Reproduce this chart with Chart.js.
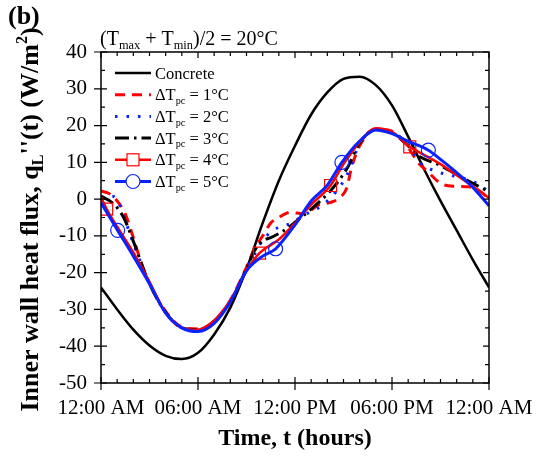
<!DOCTYPE html>
<html lang="en">
<head>
  <meta charset="UTF-8">
  <title>Inner wall heat flux</title>
  <style>
    html, body { margin: 0; padding: 0; background: #fff; }
  </style>
  <script src="https://cdn.jsdelivr.net/npm/chart.js"></script>
</head>
<body>
  <canvas id="fluxChart" width="550" height="457"></canvas>
  <script>
    // tick labels
    const xTickLabels = ['12:00 AM', '06:00 AM', '12:00 PM', '06:00 PM', '12:00 AM'];
    const legendNames = ['Concrete', 'ΔT_pc = 1°C', 'ΔT_pc = 2°C', 'ΔT_pc = 3°C', 'ΔT_pc = 4°C', 'ΔT_pc = 5°C'];

    // concrete wall (hourly)
    const concreteHours = [0, 1, 2, 3, 4, 5, 6, 7, 8, 9, 10, 11, 12, 13, 14, 15, 16, 17, 18, 19, 20, 21, 22, 23, 24];
    const concrete = [-24, -30, -35.5, -39.8, -42.6, -43.5, -41.8, -36.8, -29.5, -19, -6.5, 5, 14.5, 23, 29, 32.7, 33.3, 31, 25.5, 17, 8, -0.5, -8.5, -16.5, -24];

    // dT_pc = 1
    const dt1Hours = [0, 0.5, 1, 1.5, 2, 2.5, 3, 4, 5, 6, 7, 8, 9, 9.5, 10, 10.5, 11, 11.7, 12.5, 13.5, 14.2, 14.8, 15.2, 15.5, 16, 17, 18, 19, 19.6, 20.2, 21, 21.8, 22.9, 24];
    const dt1 = [2.2, 1.5, -0.5, -4, -10.5, -17.5, -23, -30.5, -34.8, -35.3, -33.2, -27.5, -18.5, -13.5, -10, -6.5, -5, -3.6, -4, -1.5, -0.9, 0.5, 3, 8.6, 14.5, 19, 18.5, 14, 10, 7.5, 4.3, 3.5, 3.3, 0.3];

    // dT_pc = 2
    const dt2Hours = [0, 0.7, 1.2, 1.6, 2, 3, 4, 5, 6, 7, 8, 9, 9.5, 10, 11, 11.7, 12.5, 13.65, 14.5, 15.2, 16, 17, 18, 19, 19.6, 20.9, 21.7, 23.1, 24];
    const dt2 = [0.3, 0.8, -2, -7, -12, -23, -30.8, -35, -35.5, -33.2, -27.8, -19, -15, -11.2, -7.6, -6.7, -4.5, -1.8, 1.8, 6.4, 15, 19, 18, 15, 10.5, 7.3, 6.4, 4.6, 2];

    // dT_pc = 3
    const dt3Hours = [0, 0.7, 1.4, 2, 3, 4, 5, 6, 7, 8, 9, 9.5, 10, 10.5, 11.5, 12, 13, 14.2, 15.2, 16, 17, 18, 19, 19.5, 21, 22.3, 24];
    const dt3 = [0.8, -1, -5, -11.5, -23, -30.8, -35, -35.5, -33.2, -27.8, -19, -14, -11.3, -10.5, -8, -6.3, -2.7, 2.3, 8.2, 15.3, 18.9, 18, 14.5, 12.2, 9.1, 5.9, 2];

    // dT_pc = 4 (squares)
    const dt4Hours = [0, 0.35, 1, 2, 3, 4, 5, 6, 7, 8, 9, 9.8, 11, 12, 13, 14.2, 15, 16, 17, 18, 19.1, 20, 21, 22, 23, 24];
    const dt4 = [0.5, -2.7, -7.5, -14.5, -22.5, -31, -35, -35.5, -33, -27.5, -19.5, -14.7, -11, -6.5, -1.5, 3.7, 9.5, 15.5, 19.3, 18.3, 14.2, 12, 9.5, 6.5, 3.5, 0.3];
    const dt4Markers = [0.35, 9.8, 14.2, 19.1];

    // dT_pc = 5 (circles)
    const dt5Hours = [0, 1.03, 2, 3, 4, 5, 6, 7, 8, 9, 10, 10.8, 12, 13, 14, 14.9, 16, 17, 18, 19, 20.25, 21, 22, 23, 24];
    const dt5 = [-1, -8.5, -15.5, -23, -31, -35, -36, -33.8, -28, -19.5, -15.5, -13.5, -7, -0.5, 3.8, 10, 15.8, 18.8, 17.8, 15.7, 13.3, 10.8, 7.2, 3.2, -1.8];
    const dt5Markers = [1.03, 10.8, 14.9, 20.25];

    const RED = '#ff0000';
    const BLUE = '#0a22ff';
    const SERIF = '"Liberation Serif", "Times New Roman", serif';

    function pts(hs, vs) {
      return hs.map((h, i) => ({ x: h, y: vs[i] }));
    }

    // text with sub/superscripts: parts = [[text, mode]] mode 0 normal, -1 sub, 1 sup
    function richParts(label) {
      const bits = label.split('_pc');
      if (bits.length < 2) return [[label, 0]];
      return [[bits[0], 0], ['pc', -1], [bits[1], 0]];
    }
    function richWidth(ctx, parts, size, weight) {
      let w = 0;
      parts.forEach(p => {
        ctx.font = `${weight} ${p[1] ? size * 0.62 : size}px ${SERIF}`;
        w += ctx.measureText(p[0]).width;
      });
      return w;
    }
    function drawRich(ctx, parts, x, y, size, weight) {
      parts.forEach(p => {
        const s = p[1] ? size * 0.62 : size;
        ctx.font = `${weight} ${s}px ${SERIF}`;
        const dy = p[1] === -1 ? size * 0.22 : (p[1] === 1 ? -size * 0.4 : 0);
        ctx.fillText(p[0], x, y + dy);
        x += ctx.measureText(p[0]).width;
      });
    }

    const framePlugin = {
      id: 'framePlugin',
      afterDraw(chart) {
        const { ctx, chartArea: a, scales: { x, y } } = chart;
        ctx.save();
        ctx.strokeStyle = '#000';
        ctx.lineWidth = 1.5;
        ctx.setLineDash([]);
        ctx.strokeRect(a.left, a.top, a.right - a.left, a.bottom - a.top);

        // tick marks
        ctx.lineWidth = 1.2;
        ctx.beginPath();
        for (let h = 0; h <= 24; h++) {
          const px = x.getPixelForValue(h);
          const major = h % 6 === 0;
          const len = major ? 6 : 4;
          ctx.moveTo(px, a.bottom + (major ? 7 : 0));
          ctx.lineTo(px, a.bottom - len);
          ctx.moveTo(px, a.top);
          ctx.lineTo(px, a.top + len);
        }
        for (let v = -50; v <= 40; v += 5) {
          const py = y.getPixelForValue(v);
          const major = v % 10 === 0;
          const len = major ? 6 : 4;
          ctx.moveTo(a.left - (major ? 7 : 0), py);
          ctx.lineTo(a.left + len, py);
          ctx.moveTo(a.right, py);
          ctx.lineTo(a.right - len, py);
        }
        ctx.stroke();

        // legend
        ctx.fillStyle = '#000';
        ctx.textBaseline = 'alphabetic';
        chart.data.datasets.forEach((ds, i) => {
          const ly = 73 + i * 21.7;
          ctx.strokeStyle = ds.borderColor;
          ctx.lineWidth = ds.borderWidth;
          ctx.setLineDash(ds.borderDash || []);
          ctx.beginPath();
          ctx.moveTo(115, ly);
          ctx.lineTo(151, ly);
          ctx.stroke();
          ctx.setLineDash([]);
          ctx.lineWidth = 1.2;
          if (ds.pointStyle === 'rect') {
            ctx.fillStyle = '#fff';
            ctx.fillRect(127, ly - 6, 12, 12);
            ctx.strokeRect(127, ly - 6, 12, 12);
          } else if (ds.pointStyle === 'circle' && ds.legendMarker) {
            ctx.beginPath();
            ctx.arc(133, ly, 7, 0, Math.PI * 2);
            ctx.fillStyle = '#fff';
            ctx.fill();
            ctx.stroke();
          }
          ctx.fillStyle = '#000';
          drawRich(ctx, richParts(ds.label), 155, ly + 5.5, 16.5, 'normal');
        });

        // condition note above the plot
        drawRich(ctx, [['(T', 0], ['max', -1], [' + T', 0], ['min', -1], [')/2 = 20°C', 0]], 100, 45, 20, 'normal');

        // panel letter
        ctx.font = `bold 26px ${SERIF}`;
        ctx.fillText('(b)', 8, 24);

        // y axis title
        const yParts = [['Inner wall heat flux, q', 0], ['L', -1], ["''(t) (W/m", 0], ['2', 1], [')', 0]];
        const w = richWidth(ctx, yParts, 26, 'bold');
        ctx.translate(29, (a.top + a.bottom) / 2 + 2);
        ctx.rotate(-Math.PI / 2);
        drawRich(ctx, yParts, -w / 2, 8.5, 26, 'bold');
        ctx.restore();
      }
    };

    const ctx = document.getElementById('fluxChart').getContext('2d');
    new Chart(ctx, {
      type: 'line',
      data: {
        datasets: [
          {
            label: legendNames[0], data: pts(concreteHours, concrete),
            borderColor: '#000', borderWidth: 2.5, pointRadius: 0, order: 5
          },
          {
            label: legendNames[1], data: pts(dt1Hours, dt1),
            borderColor: RED, borderWidth: 3, borderDash: [10, 7], pointRadius: 0, order: 4
          },
          {
            label: legendNames[2], data: pts(dt2Hours, dt2),
            borderColor: BLUE, borderWidth: 3, borderDash: [2.5, 9], pointRadius: 0, order: 3
          },
          {
            label: legendNames[3], data: pts(dt3Hours, dt3),
            borderColor: '#000', borderWidth: 3, borderDash: [14, 5, 2.5, 5], pointRadius: 0, order: 2
          },
          {
            label: legendNames[4], data: pts(dt4Hours, dt4),
            borderColor: RED, borderWidth: 2.5, pointStyle: 'rect',
            pointRadius: dt4Hours.map(h => dt4Markers.includes(h) ? 8.5 : 0),
            pointBorderColor: RED, pointBackgroundColor: 'rgba(255,255,255,0)', pointBorderWidth: 1.2, order: 1
          },
          {
            label: legendNames[5], data: pts(dt5Hours, dt5),
            borderColor: BLUE, borderWidth: 3, pointStyle: 'circle', legendMarker: true,
            pointRadius: dt5Hours.map(h => dt5Markers.includes(h) ? 7 : 0),
            pointBorderColor: BLUE, pointBackgroundColor: 'rgba(255,255,255,0)', pointBorderWidth: 1.2, order: 0
          }
        ]
      },
      options: {
        responsive: false,
        animation: false,
        layout: { padding: { left: 0, top: 52, right: 61, bottom: 0 } },
        elements: { line: { cubicInterpolationMode: 'monotone' } },
        plugins: { legend: { display: false }, tooltip: { enabled: false } },
        scales: {
          x: {
            type: 'linear', min: 0, max: 24,
            afterFit(s) { s.height = 74; },
            grid: { display: false, drawTicks: false },
            border: { display: false },
            ticks: {
              stepSize: 6, padding: 13, autoSkip: false, maxRotation: 0, color: '#000',
              font: { family: SERIF, size: 21 },
              callback: v => xTickLabels[v / 6]
            },
            title: {
              display: true, text: 'Time, t (hours)', color: '#000',
              font: { family: SERIF, size: 24, weight: 'bold' },
              padding: { top: 0, bottom: 4 }
            }
          },
          y: {
            min: -50, max: 40,
            afterFit(s) { s.width = 101; },
            grid: { display: false, drawTicks: false },
            border: { display: false },
            ticks: {
              stepSize: 10, padding: 14, color: '#000',
              font: { family: SERIF, size: 21 }
            }
          }
        }
      },
      plugins: [framePlugin]
    });
  </script>
</body>
</html>
